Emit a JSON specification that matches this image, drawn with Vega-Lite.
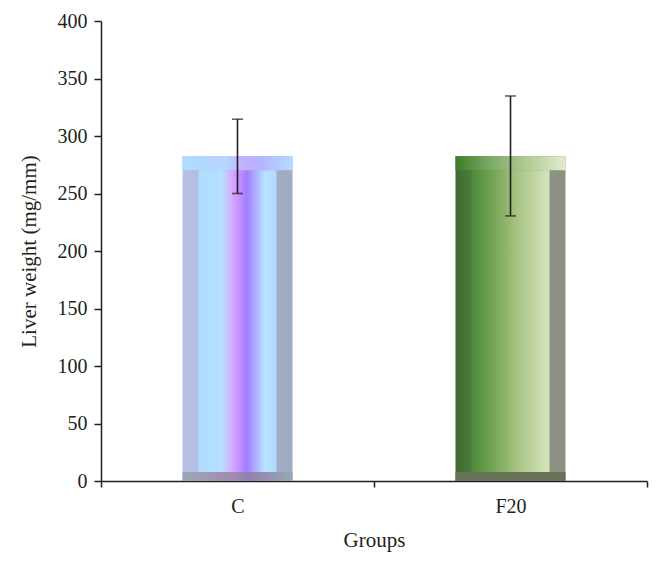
{
  "$schema": "https://vega.github.io/schema/vega-lite/v6.json",
  "autosize": {"type": "none"},
  "width": 546,
  "height": 460,
  "padding": {"left": 101, "top": 21, "right": 11, "bottom": 85},
  "background": "white",
  "config": {
    "view": {"stroke": null},
    "font": "Liberation Serif",
    "axis": {"labelFont": "Liberation Serif", "titleFont": "Liberation Serif", "labelColor": "#231f20", "titleColor": "#231f20", "domainColor": "#231f20", "tickColor": "#231f20", "titleFontWeight": "normal", "grid": false, "domainWidth": 1.5, "tickWidth": 1.5, "zindex": 1}
  },
  "data": {"values": [
    {"group": "C", "value": 282.4, "lower": 250, "upper": 314.6},
    {"group": "F20", "value": 282.4, "lower": 230.5, "upper": 334.8}
  ]},
  "encoding": {
    "x": {"field": "group", "type": "nominal", "sort": ["C", "F20"],
      "scale": {"paddingInner": 0, "paddingOuter": 0},
      "axis": {"title": "Groups", "labelAngle": 0, "tickBand": "extent", "tickSize": 6, "labelPadding": 9, "titlePadding": 13, "labelFontSize": 20, "titleFontSize": 21}},
    "y": {"field": "value", "type": "quantitative",
      "scale": {"domain": [0, 400], "nice": false, "zero": true},
      "axis": {"title": "Liver weight (mg/mm)", "values": [0, 50, 100, 150, 200, 250, 300, 350, 400], "tickSize": 7, "labelPadding": 7, "titlePadding": 18, "labelFontSize": 20, "titleFontSize": 21}}
  },
  "layer": [
    {"transform": [{"filter": "datum.group === 'C'"}],
     "mark": {"type": "bar", "size": 110, "color": {"gradient": "linear", "x1": 0, "x2": 1, "y1": 0, "y2": 0, "stops": [{"offset": 0, "color": "#b6c0e4"}, {"offset": 0.5, "color": "#a8b6d8"}, {"offset": 1, "color": "#9daabf"}]}}},
    {"transform": [{"filter": "datum.group === 'C'"}],
     "mark": {"type": "bar", "size": 110, "y2Offset": 14, "color": {"gradient": "linear", "x1": 0, "x2": 1, "y1": 0, "y2": 0, "stops": [{"offset": 0, "color": "#aedcff"}, {"offset": 0.4, "color": "#b8d4ff"}, {"offset": 0.55, "color": "#c4b0ff"}, {"offset": 0.7, "color": "#b4b4ff"}, {"offset": 1, "color": "#b4dcff"}]}},
     "encoding": {"y2": {"field": "value"}}},
    {"transform": [{"filter": "datum.group === 'C'"}],
     "mark": {"type": "bar", "size": 78, "yOffset": 14, "y2Offset": -9, "color": {"gradient": "linear", "x1": 0, "x2": 1, "y1": 0, "y2": 0, "stops": [{"offset": 0, "color": "#aedcff"}, {"offset": 0.3, "color": "#b8e0ff"}, {"offset": 0.45, "color": "#d6a2ff"}, {"offset": 0.62, "color": "#a47cff"}, {"offset": 0.85, "color": "#b8e2ff"}, {"offset": 1, "color": "#aedaff"}]}},
     "encoding": {"y2": {"datum": 0}}},
    {"transform": [{"filter": "datum.group === 'C'"}],
     "mark": {"type": "bar", "size": 110, "yOffset": -9, "color": {"gradient": "linear", "x1": 0, "x2": 1, "y1": 0, "y2": 0, "stops": [{"offset": 0, "color": "#9aa8b4"}, {"offset": 0.45, "color": "#a08cb0"}, {"offset": 0.6, "color": "#9480b0"}, {"offset": 1, "color": "#98a8b8"}]}},
     "encoding": {"y": {"datum": 0, "type": "quantitative"}, "y2": {"datum": 0}}},
    {"transform": [{"filter": "datum.group === 'F20'"}],
     "mark": {"type": "bar", "size": 110, "color": {"gradient": "linear", "x1": 0, "x2": 1, "y1": 0, "y2": 0, "stops": [{"offset": 0, "color": "#3e6a34"}, {"offset": 0.15, "color": "#4a7a3c"}, {"offset": 0.5, "color": "#8a9a78"}, {"offset": 0.85, "color": "#8e9282"}, {"offset": 1, "color": "#8c9080"}]}}},
    {"transform": [{"filter": "datum.group === 'F20'"}],
     "mark": {"type": "bar", "size": 110, "y2Offset": 14, "color": {"gradient": "linear", "x1": 0, "x2": 1, "y1": 0, "y2": 0, "stops": [{"offset": 0, "color": "#3a7c2c"}, {"offset": 0.3, "color": "#7aa860"}, {"offset": 0.7, "color": "#b8d09c"}, {"offset": 1, "color": "#e2ecd0"}]}},
     "encoding": {"y2": {"field": "value"}}},
    {"transform": [{"filter": "datum.group === 'F20'"}],
     "mark": {"type": "bar", "size": 78, "yOffset": 14, "y2Offset": -9, "color": {"gradient": "linear", "x1": 0, "x2": 1, "y1": 0, "y2": 0, "stops": [{"offset": 0, "color": "#4c8a3c"}, {"offset": 0.25, "color": "#6ea24f"}, {"offset": 0.6, "color": "#aac586"}, {"offset": 1, "color": "#d6e4bf"}]}},
     "encoding": {"y2": {"datum": 0}}},
    {"transform": [{"filter": "datum.group === 'F20'"}],
     "mark": {"type": "bar", "size": 110, "yOffset": -9, "color": "#687256"},
     "encoding": {"y": {"datum": 0, "type": "quantitative"}, "y2": {"datum": 0}}},
    {"mark": {"type": "rule", "color": "#231f20", "strokeWidth": 1.6},
     "encoding": {"y": {"field": "upper"}, "y2": {"field": "lower"}}},
    {"mark": {"type": "tick", "color": "#231f20", "size": 11, "thickness": 1.6},
     "encoding": {"y": {"field": "upper"}}},
    {"mark": {"type": "tick", "color": "#231f20", "size": 11, "thickness": 1.6},
     "encoding": {"y": {"field": "lower"}}}
  ]
}
